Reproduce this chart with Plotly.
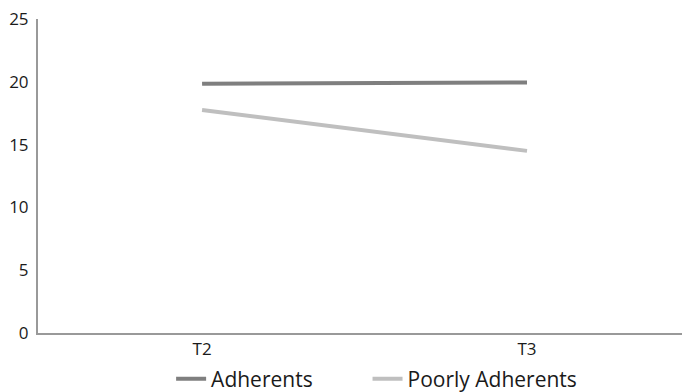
import plotly.graph_objects as go

categories = ["T2", "T3"]
adherents = [19.85, 19.95]
poorly_adherents = [17.75, 14.5]
y_ticks = [0, 5, 10, 15, 20, 25]

fig = go.Figure()
fig.add_trace(go.Scatter(x=categories, y=adherents, mode="lines", name="Adherents",
                         line=dict(color="#7f7f7f", width=4), legend="legend"))
fig.add_trace(go.Scatter(x=categories, y=poorly_adherents, mode="lines", name="Poorly Adherents",
                         line=dict(color="#bfbfbf", width=4), legend="legend2"))

legend_style = dict(orientation="h", xanchor="left", y=0.033, yanchor="middle",
                    yref="container", font=dict(size=21, color="#1a1a1a"),
                    bgcolor="rgba(0,0,0,0)")

fig.update_layout(
    width=682, height=392,
    margin=dict(l=38, r=0, t=19, b=59, autoexpand=False),
    paper_bgcolor="white", plot_bgcolor="white",
    font=dict(family="Open Sans", color="#1a1a1a", size=15),
    showlegend=True,
    legend=dict(x=0.2067, **legend_style),
    legend2=dict(x=0.5117, **legend_style),
)
fig.update_xaxes(type="category", range=[-0.505, 1.477], showgrid=False, zeroline=False,
                 showline=True, linecolor="#999999", linewidth=2, ticks="",
                 tickfont=dict(size=17), automargin=False)
fig.update_yaxes(range=[0, 25], tickvals=y_ticks, showgrid=False, zeroline=False,
                 showline=True, linecolor="#999999", linewidth=2, ticks="",
                 tickfont=dict(size=17), ticklabelstandoff=4, automargin=False)

fig.write_html("out.html", config={"displayModeBar": False},
               post_script="document.body.style.margin='0';document.body.style.overflow='hidden';")
